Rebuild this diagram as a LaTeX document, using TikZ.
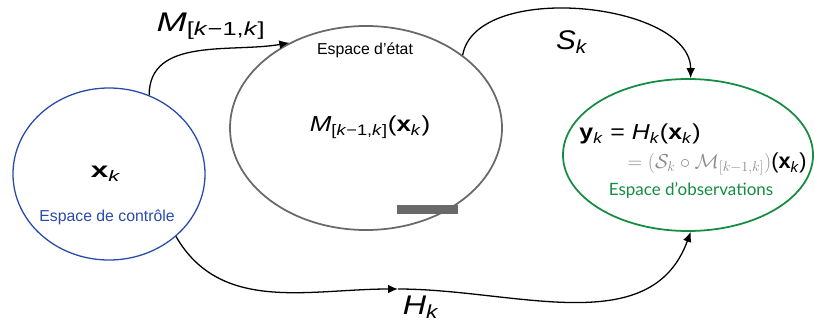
\documentclass[tikz,border=0pt]{standalone}
\usepackage{fontspec}
\setmainfont{Liberation Sans}
\newfontfamily\obsfont{Lato}
\usepackage{amsmath, amssymb}
\usetikzlibrary{positioning, arrows.meta, shapes.geometric}
\definecolor{ctrlblue}{RGB}{40,75,170}
\definecolor{obsgreen}{RGB}{20,140,65}
\definecolor{stategray}{RGB}{105,105,105}
\newcommand{\Mkk}{\textit{M}\textsubscript{[\textit{k}−1,\textit{k}]}}
\newcommand{\xk}{\textbf{x}\textsubscript{\textit{k}}}
\newcommand{\widen}[2]{\scalebox{#1}[1]{#2}}

\begin{document}
\begin{tikzpicture}[
  x=0.03cm, y=0.03cm,
  space/.style={draw, ellipse, inner sep=0pt, line width=1.3pt},
  lbl/.style={font=\fontsize{23}{26}\selectfont, inner sep=1pt},
  inlbl/.style={font=\fontsize{18.5}{21}\selectfont, inner sep=1pt},
  tag/.style={font=\fontsize{13.5}{16}\selectfont, inner sep=1pt},
  arr/.style={-{Latex[length=3mm,width=2.6mm]}, line width=1.1pt, draw=black},
]
\useasboundingbox (0,0) rectangle (814,323);
\node[space, draw=ctrlblue, line width=1.1pt, minimum width=5.76cm, minimum height=5.16cm]
  (ctrl) at (109,149) {};
\node[space, draw=stategray, line width=1.5pt, minimum width=8.16cm, minimum height=6.12cm]
  (state) at (366,195) {};
\node[space, draw=obsgreen, line width=1.5pt, minimum width=7.5cm, minimum height=4.56cm]
  (obs) at (688,168) {};
\fill[stategray] (397,109) rectangle (458,118);
\node[inlbl] (x)     at (106,149) {\widen{1.45}{\xk}};
\node[tag, text=ctrlblue] (ctrltag) at (107,106) {Espace de contrôle};
\node[tag] (statetag) at (365,273) {Espace d’état};
\node[inlbl] (mx)    at (370,196) {\widen{1.2}{\Mkk(\xk)}};
\node[inlbl] (y)     at (640,189) {\widen{1.15}{\textbf{y}\textsubscript{\textit{k}} = \textit{H}\textsubscript{\textit{k}}(\xk)}};
\node[inlbl, anchor=east] (comp) at (808,159)
  {{\color{black!45}$=(\mathcal{S}_k\circ\mathcal{M}_{[k-1,k]})$}(\xk)};
\node[tag, text=obsgreen, font=\obsfont\fontsize{14.5}{17}\selectfont] (obstag)
  at (691,133) {Espace d’observations};
\node[lbl] (mlbl) at (211,297) {\widen{1.35}{\Mkk}};
\node[lbl] (slbl) at (572,281) {\widen{1.1}{\textit{S}\textsubscript{\textit{k}}}};
\node[lbl] (hlbl) at (421,16)  {\widen{1.2}{\textit{H}\textsubscript{\textit{k}}}};
\coordinate (hmid) at (398,34);
\draw[arr] (ctrl.63) to[out=90, in=190] (state.132);
\draw[arr] (state.37) to[out=80, in=90, looseness=0.85] (obs.88);
\draw[arr] (ctrl.-43) to[out=-60, in=180] (hmid);
\draw[arr] (hmid) to[out=0, in=-110] (obs.-88);
\end{tikzpicture}
\end{document}
